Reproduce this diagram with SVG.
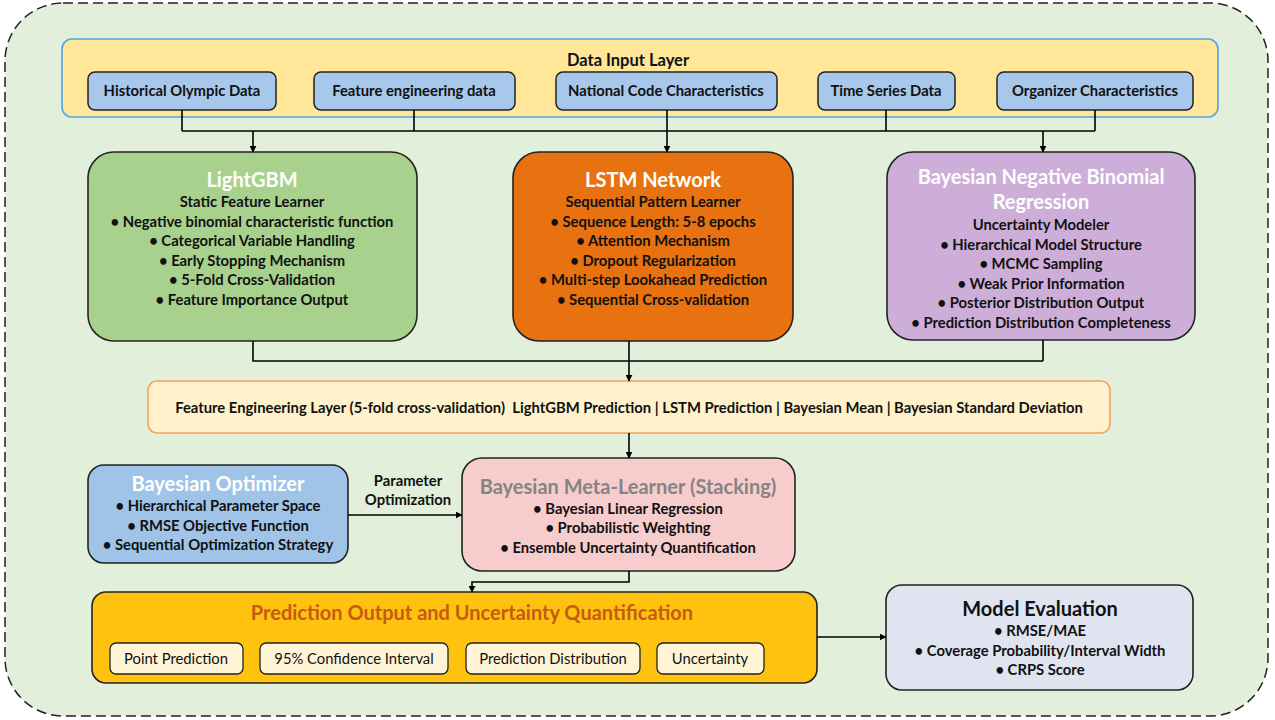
<svg xmlns="http://www.w3.org/2000/svg" width="1275" height="720" viewBox="0 0 1275 720">
<defs>
<marker id="arr" viewBox="0 0 10 10" refX="9" refY="5" markerWidth="7" markerHeight="7" orient="auto" markerUnits="userSpaceOnUse">
<path d="M0,0 L10,5 L0,10 z" fill="#000"/>
</marker>
<style>
text{font-family:Lato,"Open Sans","Liberation Sans",sans-serif;font-weight:bold;text-anchor:middle;fill:#111}
.t{font-size:14.8px}
.h{font-size:20px;fill:#fff}
.box{stroke:#222;stroke-width:1.6}
.in{fill:#a7c7eb;stroke:#222;stroke-width:1.5}
.sub{fill:#fff5d6;stroke:#222;stroke-width:1.3}
.c{fill:none;stroke:#000;stroke-width:1.6}
</style>
</defs>
<rect x="5" y="3" width="1263" height="713" rx="58" fill="#e2efda" stroke="#222" stroke-width="1.5" stroke-dasharray="10,5"/>

<g id="data-input-layer">
<rect x="62" y="39" width="1156" height="78" rx="10" fill="#ffe699" stroke="#4ea6e6" stroke-width="1.6"/>
<text x="628" y="66" style="font-size:16.5px">Data Input Layer</text>
</g>
<g id="in-historical"><rect class="in" x="88" y="72" width="188" height="38" rx="7"/><text class="t" x="182" y="96">Historical Olympic Data</text></g>
<g id="in-feature"><rect class="in" x="314" y="72" width="201" height="38" rx="7"/><text class="t" x="414" y="96">Feature engineering data</text></g>
<g id="in-national"><rect class="in" x="556" y="72" width="221" height="38" rx="7"/><text class="t" x="666" y="96">National Code Characteristics</text></g>
<g id="in-time"><rect class="in" x="818" y="72" width="137" height="38" rx="7"/><text class="t" x="886" y="96">Time Series Data</text></g>
<g id="in-organizer"><rect class="in" x="997" y="72" width="196" height="38" rx="7"/><text class="t" x="1095" y="96">Organizer Characteristics</text></g>

<g id="lightgbm">
<rect class="box" x="88" y="152" width="329" height="189" rx="26" fill="#a9d18e"/>
<text class="h" x="252" y="187">LightGBM</text>
<text class="t" x="252" y="207">Static Feature Learner</text>
<text class="t" x="252" y="227">• Negative binomial characteristic function</text>
<text class="t" x="252" y="246">• Categorical Variable Handling</text>
<text class="t" x="252" y="266">• Early Stopping Mechanism</text>
<text class="t" x="252" y="285">• 5-Fold Cross-Validation</text>
<text class="t" x="252" y="305">• Feature Importance Output</text>
</g>

<g id="lstm">
<rect class="box" x="513" y="152" width="280" height="189" rx="26" fill="#e8720f"/>
<text class="h" x="653" y="187">LSTM Network</text>
<text class="t" x="653" y="207">Sequential Pattern Learner</text>
<text class="t" x="653" y="227">• Sequence Length: 5-8 epochs</text>
<text class="t" x="653" y="246">• Attention Mechanism</text>
<text class="t" x="653" y="266">• Dropout Regularization</text>
<text class="t" x="653" y="285">• Multi-step Lookahead Prediction</text>
<text class="t" x="653" y="305">• Sequential Cross-validation</text>
</g>

<g id="bayesian-nb">
<rect class="box" x="887" y="152" width="308" height="188" rx="26" fill="#cdaed8"/>
<text class="h" x="1041" y="184">Bayesian Negative Binomial</text>
<text class="h" x="1041" y="209">Regression</text>
<text class="t" x="1041" y="230">Uncertainty Modeler</text>
<text class="t" x="1041" y="250">• Hierarchical Model Structure</text>
<text class="t" x="1041" y="269">• MCMC Sampling</text>
<text class="t" x="1041" y="289">• Weak Prior Information</text>
<text class="t" x="1041" y="308">• Posterior Distribution Output</text>
<text class="t" x="1041" y="328">• Prediction Distribution Completeness</text>
</g>

<g id="feature-layer">
<rect x="148" y="381" width="962" height="52" rx="9" fill="#fff1cc" stroke="#f0a35e" stroke-width="1.6"/>
<text class="t" x="629" y="413" xml:space="preserve">Feature Engineering Layer (5-fold cross-validation)  LightGBM Prediction | LSTM Prediction | Bayesian Mean | Bayesian Standard Deviation</text>
</g>

<g id="bayesian-optimizer">
<rect class="box" x="88" y="465" width="260" height="98" rx="16" fill="#9fc4e8"/>
<text class="h" x="218" y="491">Bayesian Optimizer</text>
<text class="t" x="218" y="511">• Hierarchical Parameter Space</text>
<text class="t" x="218" y="531">• RMSE Objective Function</text>
<text class="t" x="218" y="550">• Sequential Optimization Strategy</text>
</g>

<g id="meta-learner">
<rect class="box" x="462" y="458" width="333" height="113" rx="20" fill="#f6cccc"/>
<text class="h" x="628" y="494" style="fill:#848484">Bayesian Meta-Learner (Stacking)</text>
<text class="t" x="628" y="514">• Bayesian Linear Regression</text>
<text class="t" x="628" y="533">• Probabilistic Weighting</text>
<text class="t" x="628" y="553">• Ensemble Uncertainty Quantification</text>
</g>

<g id="prediction-output">
<rect class="box" x="92" y="592" width="725" height="91" rx="14" fill="#ffc30f"/>
<text class="h" x="472" y="620" style="fill:#c55a11">Prediction Output and Uncertainty Quantification</text>
</g>
<g id="out-point"><rect class="sub" x="110" y="643" width="133" height="31" rx="6"/><text class="t" x="176" y="664" style="font-weight:normal">Point Prediction</text></g>
<g id="out-ci"><rect class="sub" x="260" y="643" width="188" height="31" rx="6"/><text class="t" x="354" y="664" style="font-weight:normal">95% Confidence Interval</text></g>
<g id="out-dist"><rect class="sub" x="466" y="643" width="174" height="31" rx="6"/><text class="t" x="553" y="664" style="font-weight:normal">Prediction Distribution</text></g>
<g id="out-unc"><rect class="sub" x="657" y="643" width="107" height="31" rx="6"/><text class="t" x="710" y="664" style="font-weight:normal">Uncertainty</text></g>

<g id="model-evaluation">
<rect class="box" x="886" y="585" width="307" height="105" rx="16" fill="#dfe4f0"/>
<text x="1040" y="616" style="font-size:20px">Model Evaluation</text>
<text class="t" x="1040" y="636">• RMSE/MAE</text>
<text class="t" x="1040" y="656">• Coverage Probability/Interval Width</text>
<text class="t" x="1040" y="675">• CRPS Score</text>
</g>

<g id="connectors">
<path class="c" d="M182,110 V131 M414,110 V131 M886,110 V131 M1095,110 V131 M182,131 H1095"/>
<path class="c" d="M253,131 V152" marker-end="url(#arr)"/>
<path class="c" d="M1043,131 V152" marker-end="url(#arr)"/>
<path class="c" d="M667,110 V152" marker-end="url(#arr)"/>
<path class="c" d="M253,341 V361 H1043 M1043,340 V361"/>
<path class="c" d="M629,341 V381" marker-end="url(#arr)"/>
<path class="c" d="M629,433 V458" marker-end="url(#arr)"/>
<path class="c" d="M348,515 H462" marker-end="url(#arr)"/>
<path class="c" d="M629,571 V582 H472 V592" marker-end="url(#arr)"/>
<path class="c" d="M817,637 H886" marker-end="url(#arr)"/>
<text class="t" x="408" y="486">Parameter</text>
<text class="t" x="408" y="505">Optimization</text>
</g>
</svg>
